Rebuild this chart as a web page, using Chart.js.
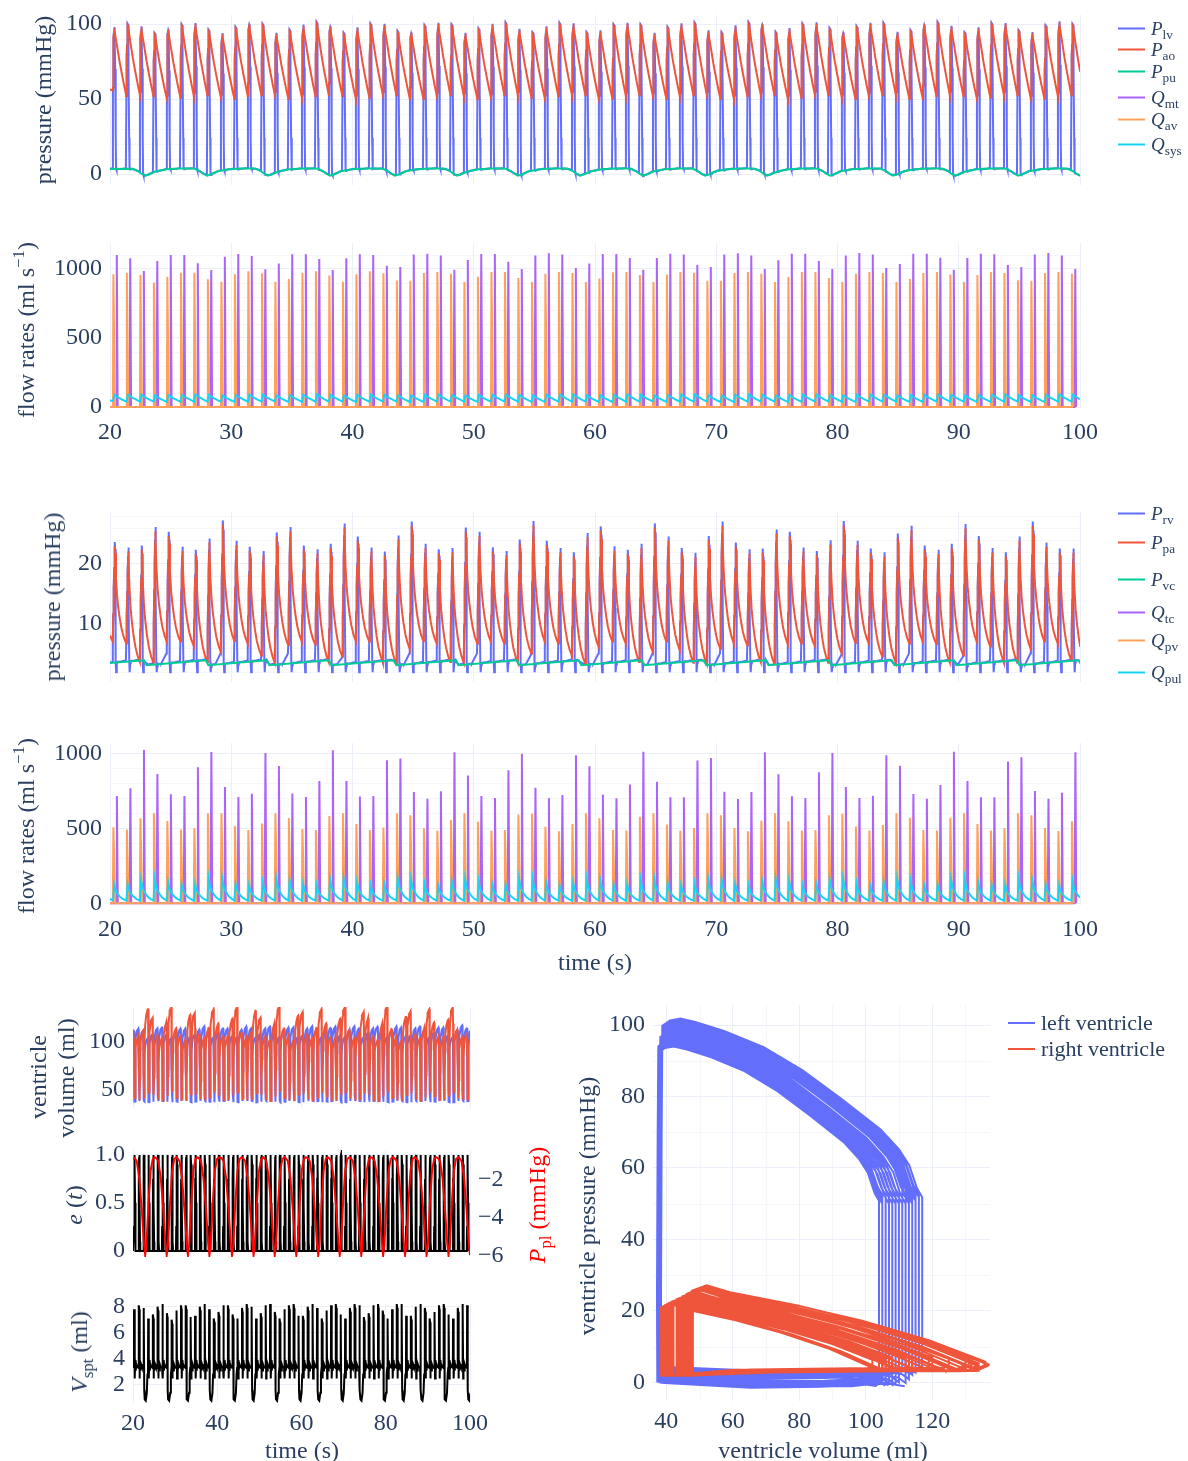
<!DOCTYPE html>
<html><head><meta charset="utf-8">
<script src="https://cdn.jsdelivr.net/npm/chart.js@4.4.1/dist/chart.umd.min.js"></script>
<style>
html,body{margin:0;padding:0;background:#fff;}
#wrap{position:relative;width:1188px;height:1461px;overflow:hidden;font-family:'Liberation Serif','Times New Roman',serif;color:#2a3f5f;}
canvas{position:absolute;left:0;top:0;}
.ttl{position:absolute;white-space:nowrap;font-size:24px;line-height:1;transform:translate(-50%,-50%) rotate(-90deg);}
.htl{position:absolute;white-space:nowrap;font-size:24px;line-height:1;transform:translate(-50%,-50%);}
.leg{position:absolute;display:flex;align-items:center;transform:translateY(-50%);white-space:nowrap;font-size:19px;line-height:1;}
.leg.big{font-size:22px;}
.sw{display:inline-block;width:27px;height:2px;margin-right:6px;}
sub{font-size:0.7em;vertical-align:-0.35em;line-height:0;}
sup{font-size:0.7em;vertical-align:0.6em;line-height:0;}
</style></head><body><div id="wrap">
<canvas id="cA" width="1188" height="1461"></canvas>
<canvas id="cB" width="1188" height="1461"></canvas>
<canvas id="cC" width="1188" height="1461"></canvas>
<canvas id="cD" width="1188" height="1461"></canvas>
<canvas id="cV" width="1188" height="1461"></canvas>
<canvas id="cE" width="1188" height="1461"></canvas>
<canvas id="cS" width="1188" height="1461"></canvas>
<canvas id="cP" width="1188" height="1461"></canvas>

<div class="ttl" style="left:43px;top:100px">pressure (mmHg)</div>
<div class="ttl" style="left:26px;top:330px">flow rates (ml s<sup>−1</sup>)</div>
<div class="ttl" style="left:52px;top:597px">pressure (mmHg)</div>
<div class="ttl" style="left:26px;top:826px">flow rates (ml s<sup>−1</sup>)</div>
<div class="htl" style="left:595px;top:962px">time (s)</div>
<div class="ttl" style="left:38px;top:1077px">ventricle</div>
<div class="ttl" style="left:66px;top:1078px">volume (ml)</div>
<div class="ttl" style="left:74px;top:1205px"><i>e</i> (<i>t</i>)</div>
<div class="ttl" style="left:537px;top:1205px;color:#ff0000"><i>P</i><sub>pl</sub> (mmHg)</div>
<div class="ttl" style="left:79px;top:1352px"><i>V</i><sub>spt</sub> (ml)</div>
<div class="htl" style="left:302px;top:1450px">time (s)</div>
<div class="ttl" style="left:587px;top:1206px">ventricle pressure (mmHg)</div>
<div class="htl" style="left:823px;top:1450px">ventricle volume (ml)</div>

<div class="leg" style="left:1118px;top:28px"><span class="sw" style="background:#636efa"></span><span><i>P</i><sub>lv</sub></span></div>
<div class="leg" style="left:1118px;top:49px"><span class="sw" style="background:#EF553B"></span><span><i>P</i><sub>ao</sub></span></div>
<div class="leg" style="left:1118px;top:71px"><span class="sw" style="background:#00cc96"></span><span><i>P</i><sub>pu</sub></span></div>
<div class="leg" style="left:1118px;top:97px"><span class="sw" style="background:#ab63fa"></span><span><i>Q</i><sub>mt</sub></span></div>
<div class="leg" style="left:1118px;top:119px"><span class="sw" style="background:#FFA15A"></span><span><i>Q</i><sub>av</sub></span></div>
<div class="leg" style="left:1118px;top:144px"><span class="sw" style="background:#19d3f3"></span><span><i>Q</i><sub>sys</sub></span></div>

<div class="leg" style="left:1118px;top:513px"><span class="sw" style="background:#636efa"></span><span><i>P</i><sub>rv</sub></span></div>
<div class="leg" style="left:1118px;top:542px"><span class="sw" style="background:#EF553B"></span><span><i>P</i><sub>pa</sub></span></div>
<div class="leg" style="left:1118px;top:579px"><span class="sw" style="background:#00cc96"></span><span><i>P</i><sub>vc</sub></span></div>
<div class="leg" style="left:1118px;top:612px"><span class="sw" style="background:#ab63fa"></span><span><i>Q</i><sub>tc</sub></span></div>
<div class="leg" style="left:1118px;top:640px"><span class="sw" style="background:#FFA15A"></span><span><i>Q</i><sub>pv</sub></span></div>
<div class="leg" style="left:1118px;top:672px"><span class="sw" style="background:#19d3f3"></span><span><i>Q</i><sub>pul</sub></span></div>

<div class="leg big" style="left:1008px;top:1023px"><span class="sw" style="background:#636efa"></span><span>left ventricle</span></div>
<div class="leg big" style="left:1008px;top:1049px"><span class="sw" style="background:#EF553B"></span><span>right ventricle</span></div>
</div>
<script>
// ================= DATA =================
const beatOnset = [20.20,21.31,22.43,23.54,24.65,25.77,26.88,27.99,29.11,30.22,31.33,32.45,33.56,34.67,35.79,36.90,38.01,39.13,40.24,41.35,42.47,43.58,44.69,45.81,46.92,48.04,49.15,50.26,51.38,52.49,53.60,54.72,55.83,56.94,58.06,59.17,60.28,61.40,62.51,63.62,64.74,65.85,66.96,68.08,69.19,70.30,71.42,72.53,73.64,74.76,75.87,76.98,78.10,79.21,80.32,81.44,82.55,83.66,84.78,85.89,87.00,88.12,89.23,90.35,91.46,92.57,93.69,94.80,95.91,97.03,98.14,99.25];
const dipTimes = [22.89,28.00,33.03,38.14,43.50,48.62,53.65,58.76,63.96,69.07,74.19,79.38,84.58,89.69,94.89,100.00];

// left heart
const aoPeak = [97.1,99.3,97.6,93.1,95.6,98.9,99.8,95.3,93.1,97.1,99.3,99.1,93.3,95.3,98.7,100.4,97.6,93.3,96.9,99.3,99.3,94.4,93.6,98.2,100.0,98.9,93.3,96.0,99.3,100.0,96.0,93.6,97.6,99.8,99.6,93.6,94.9,98.9,100.0,98.7,93.3,97.1,99.6,100.0,94.9,93.6,98.2,100.2,99.1,93.8,96.4,99.3,100.2,96.4,93.6,97.6,100.0,99.8,94.0,94.9,98.9,100.4,98.0,93.6,96.9,99.8,99.8,94.9,93.8,98.2,100.9,99.1];
const aoOpen = [55.5,51.8,52.5,51.8,50.0,50.8,51.8,52.5,50.8,50.0,51.8,52.5,52.5,50.0,50.8,51.8,52.5,51.8,50.0,50.8,52.5,52.5,50.0,50.0,51.8,52.5,51.8,50.0,50.8,52.5,52.5,50.8,50.0,51.8,52.5,52.5,50.0,50.0,51.8,52.5,51.8,50.0,51.8,52.5,52.5,50.0,50.0,51.8,52.5,52.5,50.0,50.8,52.5,52.5,50.8,50.0,51.8,52.5,52.5,50.0,50.0,51.8,52.5,51.8,50.0,50.8,52.5,52.5,50.0,50.0,51.8,52.5];
const aoStart = 56.4, aoOpenAfter = 52.5;
const qavPeak = [961,973,957,901,944,973,973,925,908,961,983,969,908,927,973,983,952,908,961,983,969,916,915,971,978,966,906,944,978,978,935,906,966,978,971,906,930,976,978,957,906,959,978,973,915,915,971,978,966,906,942,978,978,935,906,966,978,971,906,928,971,978,959,906,957,978,971,918,915,971,978,966];
const qmtPeak = [1101,1077,985,1058,1101,1101,1041,993,1089,1109,1094,998,1039,1106,1106,1072,993,1077,1106,1101,1024,1014,1104,1111,1097,995,1065,1109,1109,1053,1000,1097,1114,1104,1007,1039,1109,1109,1080,995,1080,1111,1104,1029,1014,1104,1114,1097,1000,1063,1111,1111,1058,1000,1097,1116,1104,1007,1036,1111,1111,1082,995,1080,1111,1106,1029,1014,1104,1116,1097,1000];
const qsysPeak = [88,90,89,85,87,90,91,87,85,88,90,90,85,87,90,91,89,85,88,90,90,86,85,89,91,90,85,87,90,91,87,85,89,91,91,85,86,90,91,90,85,88,91,91,86,85,89,91,90,85,88,90,91,88,85,89,91,91,85,86,90,91,89,85,88,91,91,86,85,89,92,90];
const qsysMin = [44,39,40,39,37,38,39,40,38,37,39,40,40,37,38,39,40,39,37,38,40,40,37,37,39,40,39,37,38,40,40,38,37,39,40,40,37,37,39,40,39,37,39,40,40,37,37,39,40,40,37,38,40,40,38,37,39,40,40,37,37,39,40,39,37,38,40,40,37,37,39,40];
const qsysStart = 48, qsysMinAfter = 40;
const lvEDV = [111,114,112,104,108,114,115,108,104,111,114,114,105,108,113,116,112,105,110,114,114,106,105,113,116,114,105,109,114,116,109,105,112,115,115,105,107,114,116,113,105,111,115,116,107,105,113,116,114,105,110,114,116,110,105,112,116,115,106,107,114,116,112,105,110,115,115,107,105,113,117,114];
const lvESV = [38.2,38.8,38.2,37.6,38.2,38.8,38.8,38.2,37.6,38.2,38.8,38.8,37.6,38.2,38.8,38.8,38.2,37.6,38.2,38.8,38.8,37.6,37.6,38.8,38.8,38.8,37.6,38.2,38.8,38.8,38.2,37.6,38.2,38.8,38.8,37.6,37.6,38.8,38.8,38.8,37.6,38.2,38.8,38.8,37.6,37.6,38.8,38.8,38.8,37.6,38.2,38.8,38.8,38.2,37.6,38.2,38.8,38.8,37.6,37.6,38.8,38.8,38.8,37.6,38.2,38.8,38.8,37.6,37.6,38.8,38.8,38.8];

// right heart
const rvPeak = [23.6,22.7,23.0,26.1,25.3,22.8,22.3,24.2,27.2,23.8,22.8,22.1,25.2,26.1,23.0,22.4,23.3,26.7,24.5,22.7,22.0,24.7,27.0,23.3,22.4,22.6,26.0,25.3,22.7,22.1,24.0,27.1,23.8,22.6,21.9,25.1,26.2,22.9,22.3,23.3,26.7,24.5,22.6,21.8,24.6,27.0,23.5,22.4,22.5,25.7,25.3,22.7,22.1,23.9,27.1,23.8,22.5,21.9,25.0,26.3,23.0,22.3,23.3,26.6,24.6,22.6,21.9,24.5,27.0,23.5,22.5,22.5];
const paOpen = [7.0,6.7,3.6,3.5,7.0,7.0,6.3,3.6,5.3,7.1,6.7,4.7,3.5,6.4,7.0,6.5,3.6,4.5,7.1,7.0,3.6,3.3,5.8,7.1,6.7,3.6,3.5,6.7,7.0,6.7,3.5,5.0,7.0,6.7,4.7,3.3,6.1,7.0,6.7,3.6,5.3,7.0,5.6,3.5,3.3,5.8,6.7,6.4,3.6,3.3,6.6,6.7,6.3,3.5,5.0,6.8,6.7,4.5,3.5,6.7,7.0,6.6,3.5,4.7,7.0,6.2,3.6,3.5,5.8,7.0,6.7,3.9];
const paStart = 8.0, paOpenAfter = 3.6;
const qpvPeak = [507,493,567,600,549,493,500,600,600,516,489,533,600,569,496,489,582,600,529,489,505,601,588,500,485,555,601,544,485,489,592,597,511,480,529,601,568,489,485,577,601,526,485,502,601,588,502,480,551,601,548,485,489,588,597,513,485,522,601,570,489,485,570,601,529,485,500,601,588,502,482,548];
const qtcPeak = [715,767,1022,862,727,715,907,1009,775,709,731,1002,916,733,709,815,1020,815,713,715,954,965,742,698,747,1007,852,716,703,888,998,771,700,722,987,914,725,700,793,1011,811,707,707,952,969,744,696,742,1007,861,714,703,874,1002,775,703,718,987,918,729,698,789,1011,815,707,707,945,974,749,698,738,1007];
const qpulPeak = [129,129,155,167,144,129,129,167,171,133,122,140,171,155,129,122,160,171,140,122,133,171,161,128,121,152,165,148,128,128,165,165,137,121,137,165,159,128,128,159,170,137,121,132,165,161,128,121,152,170,150,121,132,161,165,132,121,143,165,150,126,126,161,165,141,126,126,165,159,128,121,148];
const qpulBase = 19, qpulStart = 30;
const rvEDV = [113,106,112,134,125,107,104,121,136,114,107,102,128,130,108,104,115,134,119,106,105,124,136,110,104,110,133,125,106,102,119,137,114,106,101,127,131,108,104,115,134,119,106,104,124,136,112,104,109,131,125,106,102,119,137,114,105,101,126,132,108,104,115,134,120,106,105,123,136,112,105,109];
const rvESV = [41.5,39.6,41.2,47.2,44.8,39.9,39.1,43.7,47.7,41.8,39.9,38.5,45.6,46.1,40.2,39.1,42.1,47.2,43.1,39.6,39.4,44.5,47.7,40.7,39.1,40.7,46.9,44.8,39.6,38.5,43.1,48.0,41.8,39.6,38.3,45.3,46.4,40.2,39.1,42.1,47.2,43.1,39.6,39.1,44.5,47.7,41.2,39.1,40.4,46.4,44.8,39.6,38.5,43.1,48.0,41.8,39.4,38.3,45.0,46.6,40.2,39.1,42.1,47.2,43.4,39.6,39.4,44.2,47.7,41.2,39.4,40.4];
const rvRampBeats = [5,9,14,18,23,28,32,37,41,46,50,55,60,64,69];
const rvRampP     = [5.0,5.0,5.0,4.3,5.0,5.0,4.8,5.0,5.0,5.0,3.2,4.8,5.0,4.5,5.0];

// septum
const vsptPeak = [7.8,8.1,7.9,7.1,7.4,8.0,8.2,7.5,7.0,7.7,8.1,8.1,7.2,7.3,8.0,8.2,7.8,7.1,7.6,8.1,8.1,7.4,7.1,7.9,8.2,8.0,7.1,7.5,8.1,8.2,7.6,7.1,7.8,8.1,8.2,7.3,7.3,8.0,8.2,7.9,7.1,7.7,8.1,8.2,7.4,7.1,7.9,8.2,8.1,7.2,7.5,8.1,8.2,7.7,7.1,7.8,8.2,8.2,7.3,7.3,8.0,8.2,7.9,7.1,7.6,8.1,8.2,7.4,7.1,7.9,8.2,8.1];
const vsptDeepBeats = [3,8,12,17,22,26,31,36,40,45,49,54,58,62,67,72];

// respiratory-cycle shapes (offset from each dip time, value)
const ppuOff = [-1.0,-0.6,-0.3,0,0.3,0.9,1.8,2.9,3.8];
const ppuVal = [3.5,2.0,0.2,-1.1,-0.3,1.8,3.1,3.6,3.6];
const ppuStart = 3.3;
const pvcOff = [-0.1,0.12];
const pvcVal = [3.9,3.05];
const pvcStart = 3.45;
const pplOff = [-2.5,-2.0,-1.4,-0.8,-0.3,0,0.3,0.8,1.3,1.8,2.3];
const pplVal = [-0.85,-1.0,-1.9,-3.6,-5.3,-5.95,-5.4,-3.2,-1.5,-0.9,-0.8];
const pplStart = -0.9;
// activation pulse shape per beat
const eOff = [-0.02,0.04,0.10,0.16,0.19,0.24,0.30,0.36,0.42];
const eVal = [0,0.25,0.75,0.98,1.0,0.9,0.5,0.1,0];
// septal volume shape per beat ('P' = peak, 'Q' = late systole)
const vsNormOff = [0.02,0.06,0.18,0.24,0.32,0.45,0.60,0.80];
const vsNormVal = [3.3,'P','Q',2.5,3.9,3.1,3.6,3.4];
const vsDeepOff = [0.02,0.06,0.18,0.24,0.35,0.60,0.85,1.0];
const vsDeepVal = [3.3,'P','Q',1.6,0.9,0.8,1.4,2.8];

// beat-shape fractions (time fraction of ejection, volume fraction ejected, pressure fraction)
const lvEjT=[0,0.07,0.11,0.15,0.2,0.28,0.36,0.46,0.58,0.69,0.77,0.85,1.0];
const lvEjV=[0,0.02,0.05,0.09,0.16,0.31,0.46,0.61,0.76,0.87,0.93,0.97,1.0];
const lvEjP=[0,0.05,0.18,0.27,0.38,0.55,0.71,0.84,0.93,0.98,1.0,0.99,0.96];
const aoDecS=[0,0.2,0.4,0.6,0.8,1.0], aoDecR=[1,0.76,0.54,0.35,0.17,0];
const rvEjT=[0,0.2,0.4,0.6,0.8,0.9,1.0], rvEjV=[0,0.19,0.42,0.64,0.87,0.95,1.0], rvEjP=[0,0.28,0.54,0.74,0.91,1.0,0.93];
const paDecS=[0,0.08,0.18,0.3,0.45,0.6,0.8,1.0], paDecR=[1,0.72,0.52,0.38,0.25,0.15,0.06,0];

// axis ticks
const timeTicks = [20,30,40,50,60,70,80,90,100];
const timeTicks2 = [20,40,60,80,100];

// ================= BUILD SERIES =================
const N = beatOnset.length;
function nextOnset(k){ return k+1<N ? beatOnset[k+1] : beatOnset[k] + (beatOnset[k]-beatOnset[k-1]); }
function interpAt(pts,t){
  if (t<=pts[0].x) return pts[0].y;
  for (let i=1;i<pts.length;i++){ if (t<=pts[i].x){ const a=pts[i-1], b=pts[i]; return a.y+(b.y-a.y)*(t-a.x)/(b.x-a.x); } }
  return pts[pts.length-1].y;
}
function respSeries(start, offs, vals){
  const out=[{x:20,y:start}];
  dipTimes.forEach(d=>offs.forEach((o,i)=>out.push({x:d+o,y:vals[i]})));
  return out;
}
const ppuPts = respSeries(ppuStart, ppuOff, ppuVal);
const pvcPts = respSeries(pvcStart, pvcOff, pvcVal);
const pplPts = respSeries(pplStart, pplOff, pplVal);
const pu = t=>interpAt(ppuPts,t), vc = t=>interpAt(pvcPts,t);

// LV
const lvT=[], lvVs=[], lvPs=[];
const aoPts=[{x:20,y:aoStart}], qavPts=[{x:20,y:0}], qmtPts=[{x:20,y:0}], qsysPts=[{x:20,y:qsysStart}];
function lvPush(t,v,p){ lvT.push(t); lvVs.push(v); lvPs.push(p); }
lvPush(20, lvEDV[0], pu(20)+0.4);
for (let k=0;k<N;k++){
  const t0=beatOnset[k], tn=nextOnset(k), last=(k===N-1);
  const edv=lvEDV[k], esv=lvESV[k], edvN= last?edv:lvEDV[k+1];
  const pk=aoPeak[k], op=aoOpen[k], opN= last?aoOpenAfter:aoOpen[k+1];
  const E0=0.04, E1=0.20;
  lvPush(t0, edv, pu(t0)+0.4);
  lvEjT.forEach((f,i)=>{ const t=t0+E0+f*(E1-E0);
    lvPush(t, edv-lvEjV[i]*(edv-esv), op+lvEjP[i]*(pk+0.9-op));
    aoPts.push({x:t, y:op+lvEjP[i]*(pk-op)}); });
  lvPush(t0+0.23, esv-0.2, 0.72*pk);
  lvPush(t0+0.27, esv-0.4, 24);
  lvPush(t0+0.30, esv-0.3, pu(t0+0.30)+0.8);
  [[0.34,0.40,-0.4],[0.38,0.72,-0.2],[0.45,0.86,0],[0.75,0.97,0]].forEach(([dt,fr,dp])=>lvPush(t0+dt, esv+fr*(edvN-esv), pu(t0+dt)+dp));
  lvPush(tn-0.08, edvN-0.4, pu(tn-0.08)+0.3);
  const dS=t0+E1, dE=tn+E0, jEnd=aoDecS.length-(last?0:1);
  const pEnd = op+lvEjP[lvEjP.length-1]*(pk-op);
  for (let j=1;j<jEnd;j++) aoPts.push({x:dS+aoDecS[j]*(dE-dS), y:opN+aoDecR[j]*(pEnd-opN)});
  qavPts.push({x:t0+E0,y:0},{x:t0+0.08,y:qavPeak[k]},{x:t0+E1,y:0});
  qmtPts.push({x:t0+0.30,y:0},{x:t0+0.36,y:qmtPeak[k]},{x:t0+0.43,y:0});
  const qN= last?qsysMinAfter:qsysMin[k+1];
  qsysPts.push({x:t0+0.05,y:qsysMin[k]},{x:t0+0.16,y:qsysPeak[k]});
  const sS=t0+0.16, sE=tn+0.05;
  for (let j=1;j<jEnd;j++) qsysPts.push({x:sS+aoDecS[j]*(sE-sS), y:qN+aoDecR[j]*(qsysPeak[k]-qN)});
}
// RV
const rvT=[], rvVs=[], rvPs=[];
const paPts=[{x:20,y:paStart}], qpvPts=[{x:20,y:0}], qtcPts=[{x:20,y:0}], qpulPts=[{x:20,y:qpulStart}];
function rvPush(t,v,p){ rvT.push(t); rvVs.push(v); rvPs.push(p); }
rvPush(20, rvEDV[0], vc(20)+0.1);
for (let k=0;k<N;k++){
  const t0=beatOnset[k], tn=nextOnset(k), last=(k===N-1);
  const edv=rvEDV[k], esv=rvESV[k], edvN= last?edv:rvEDV[k+1];
  const pk=rvPeak[k], op=paOpen[k], opN= last?paOpenAfter:paOpen[k+1];
  const E0=0.03, E1=0.22;
  const ri=rvRampBeats.indexOf(k+1);
  rvPush(t0, edv, ri>=0 ? rvRampP[ri] : vc(t0)+0.1);
  rvEjT.forEach((f,i)=>{ const t=t0+E0+f*(E1-E0);
    rvPush(t, edv-rvEjV[i]*(edv-esv), op+rvEjP[i]*(pk-op));
    paPts.push({x:t, y:op+rvEjP[i]*(pk-0.7-op)}); });
  rvPush(t0+0.25, esv, 0.55*pk);
  rvPush(t0+0.28, esv, 3.6);
  rvPush(t0+0.31, esv+0.2, 1.9);
  [[0.36,0.30,-0.3],[0.40,0.62,0],[0.46,0.82,0.1],[0.70,0.93,0.1]].forEach(([dt,fr,dp])=>rvPush(t0+dt, esv+fr*(edvN-esv), vc(t0+dt)+dp));
  const nextRamp = !last && rvRampBeats.indexOf(k+2)>=0;
  if (nextRamp) rvPush(tn-0.42, esv+0.96*(edvN-esv), vc(tn-0.42)+0.1);
  else rvPush(tn-0.08, edvN-0.4, vc(tn-0.08)+0.2);
  const paE = op+rvEjP[rvEjP.length-1]*(pk-0.7-op);
  const dS=t0+E1, dE=tn+E0, jEnd=paDecS.length-(last?0:1);
  for (let j=1;j<jEnd;j++) paPts.push({x:dS+paDecS[j]*(dE-dS), y:opN+paDecR[j]*(paE-opN)});
  qpvPts.push({x:t0+E0,y:0},{x:t0+0.08,y:qpvPeak[k]},{x:t0+0.23,y:0});
  qtcPts.push({x:t0+0.31,y:0},{x:t0+0.37,y:qtcPeak[k]},{x:t0+0.44,y:0});
  qpulPts.push({x:t0+0.05,y:qpulBase},{x:t0+0.14,y:qpulPeak[k]});
  const qS=t0+0.14, qE=tn+0.05;
  for (let j=1;j<jEnd;j++) qpulPts.push({x:qS+paDecS[j]*(qE-qS), y:qpulBase+paDecR[j]*(qpulPeak[k]-qpulBase)});
}
// activation & septum
const ePts=[{x:20,y:0}], vsPts=[{x:20,y:3.3}];
for (let k=0;k<N;k++){
  const t0=beatOnset[k], pk=vsptPeak[k];
  const deep = vsptDeepBeats.indexOf(k+1)>=0;
  const offs = deep ? vsDeepOff : vsNormOff, vals = deep ? vsDeepVal : vsNormVal;
  eOff.forEach((o,i)=>ePts.push({x:t0+o,y:eVal[i]}));
  offs.forEach((o,i)=>{ const v=vals[i]; vsPts.push({x:t0+o, y: v==='P'?pk:(v==='Q'?pk-0.3:v)}); });
}
const toPts=(ts,vs)=>ts.map((t,i)=>({x:t,y:vs[i]}));
const lvPPts=toPts(lvT,lvPs), lvVPts=toPts(lvT,lvVs), rvPPts=toPts(rvT,rvPs), rvVPts=toPts(rvT,rvVs);
const lvLoop=[], rvLoop=[];
lvT.forEach((t,i)=>{ if(t<=100) lvLoop.push({x:lvVs[i],y:lvPs[i]}); });
rvT.forEach((t,i)=>{ if(t<=100) rvLoop.push({x:rvVs[i],y:rvPs[i]}); });

// ================= CHARTS =================
const W=1188, H=1461;
const FONT="'Liberation Serif','Times New Roman',serif", FS=24;
const TXT='#2a3f5f', GRID='#EBF0F8', MINOR='#F4F6FA';
const COL={blue:'#636efa',red:'#EF553B',green:'#00cc96',purple:'#ab63fa',orange:'#FFA15A',cyan:'#19d3f3'};
const fmt = v => String(Math.round(v*100)/100).replace('-', '\u2212');

function ax(min,max,ticks,size,o={}){
  return { type:'linear', position:o.position, min, max, bounds:'data',
    afterFit(s){ if (s.isHorizontal()) s.height=size; else s.width=size; s.paddingTop=0; s.paddingBottom=0; s.paddingLeft=0; s.paddingRight=0; },
    afterBuildTicks(s){ s.ticks = ticks.map(v=>({value:v})); },
    grid:{ display:o.grid!==false, color:GRID, lineWidth:1, drawTicks:false },
    border:{ display:false },
    ticks:{ display:o.labels!==false, color:TXT, font:{family:FONT,size:FS}, padding:(o.pad==null?8:o.pad), maxRotation:0, minRotation:0, autoSkip:false, callback:o.fmt||fmt } };
}
function ds(data,color,yAxisID){ return {data, borderColor:color, backgroundColor:color, borderWidth:2, pointRadius:0, tension:0, fill:false, parsing:false, yAxisID:yAxisID||'y', xAxisID:'x'}; }
function makeChart(id, box, scales, datasets, minor, hasRight){
  const n=datasets.length; datasets.forEach((d,i)=>d.order=n-i);
  const mg={ id:'mg_'+id, beforeDraw(chart){
    if(!minor) return; const ctx=chart.ctx, a=chart.chartArea; ctx.save(); ctx.strokeStyle=MINOR; ctx.lineWidth=1;
    (minor.y||[]).forEach(v=>{ const p=Math.round(chart.scales.y.getPixelForValue(v))+0.5; if(p<a.top||p>a.bottom) return; ctx.beginPath(); ctx.moveTo(a.left,p); ctx.lineTo(a.right,p); ctx.stroke(); });
    (minor.x||[]).forEach(v=>{ const p=Math.round(chart.scales.x.getPixelForValue(v))+0.5; if(p<a.left||p>a.right) return; ctx.beginPath(); ctx.moveTo(p,a.top); ctx.lineTo(p,a.bottom); ctx.stroke(); });
    ctx.restore(); } };
  return new Chart(document.getElementById(id), { type:'line', data:{datasets},
    options:{ responsive:false, animation:false, devicePixelRatio:1, events:[],
      layout:{ padding:{ left:0, top:box.t, right: hasRight?0:(W-box.r), bottom:0 } },
      plugins:{ legend:{display:false}, tooltip:{enabled:false} }, scales },
    plugins:[mg] });
}
const range=(a,b,s,skip)=>{ const r=[]; for(let v=a; v<=b+1e-9; v+=s){ const vv=Math.round(v*1000)/1000; if(!skip||skip.indexOf(vv)<0) r.push(vv);} return r; };
function xAx(min,max,ticks,box,o){ return ax(min,max,ticks,H-box.b,Object.assign({position:'bottom'},o||{})); }
function yAx(min,max,ticks,box,o){ return ax(min,max,ticks,box.l,Object.assign({position:'left'},o||{})); }

// A: LV pressures
const bA={l:110,t:15,r:1080,b:185};
makeChart('cA',bA,{ x:xAx(20,100,timeTicks,bA,{labels:false}), y:yAx(-7.33,106,[0,50,100],bA) },
  [ ds(lvPPts,COL.blue), ds(aoPts,COL.red), ds(ppuPts,COL.green) ], { y: range(10,100,10,[50,100]) });
// B: LV flows
const bB={l:110,t:243,r:1080,b:408};
makeChart('cB',bB,{ x:xAx(20,100,timeTicks,bB,{pad:10}), y:yAx(-7,1188,[0,500,1000],bB) },
  [ ds(qmtPts,COL.purple), ds(qavPts,COL.orange), ds(qsysPts,COL.cyan) ], { y: range(100,1100,100,[500,1000]) });
// C: RV pressures
const bC={l:110,t:512,r:1080,b:682};
makeChart('cC',bC,{ x:xAx(20,100,timeTicks,bC,{labels:false}), y:yAx(0.27,28.6,[10,20],bC) },
  [ ds(rvPPts,COL.blue), ds(paPts,COL.red), ds(pvcPts,COL.green) ], { y: range(2,28,2,[10,20]) });
// D: RV flows
const bD={l:110,t:743,r:1080,b:905};
makeChart('cD',bD,{ x:xAx(20,100,timeTicks,bD,{pad:10}), y:yAx(-11,1069,[0,500,1000],bD) },
  [ ds(qtcPts,COL.purple), ds(qpvPts,COL.orange), ds(qpulPts,COL.cyan) ], { y: range(100,900,100,[500]) });
// V: ventricle volumes
const bV={l:133,t:1007,r:470,b:1108};
makeChart('cV',bV,{ x:xAx(20,100,timeTicks2,bV,{labels:false}), y:yAx(31.2,136.3,[50,100],bV) },
  [ ds(lvVPts,COL.blue), ds(rvVPts,COL.red) ], null);
// E: activation + pleural pressure
const bE={l:133,t:1150,r:470,b:1257};
makeChart('cE',bE,{ x:xAx(20,100,timeTicks2,bE,{labels:false}),
    y:yAx(-0.0625,1.052,[0,0.5,1],bE,{fmt:v=>(v===0?'0':v.toFixed(1))}),
    y2:ax(-6.05,-0.42,[-6,-4,-2],W-bE.r,{position:'right',grid:false}) },
  [ ds(ePts,'#000000'), ds(pplPts,'#ff0000','y2') ], null, true);
// S: septal volume
const bS={l:133,t:1303,r:470,b:1403};
makeChart('cS',bS,{ x:xAx(20,100,timeTicks2,bS,{pad:6}), y:yAx(0.62,8.28,[2,4,6,8],bS) },
  [ ds(vsPts,'#000000') ], null);
// P: PV loops
const bP={l:653,t:1005,r:990,b:1401};
makeChart('cP',bP,{ x:xAx(36.0,137.4,[40,60,80,100,120],bP,{pad:6}), y:yAx(-5.2,105.6,[0,20,40,60,80,100],bP) },
  [ ds(lvLoop,COL.blue), ds(rvLoop,COL.red) ], { x:[50,70,90,110,130], y:[10,30,50,70,90] });
</script>
</body></html>
